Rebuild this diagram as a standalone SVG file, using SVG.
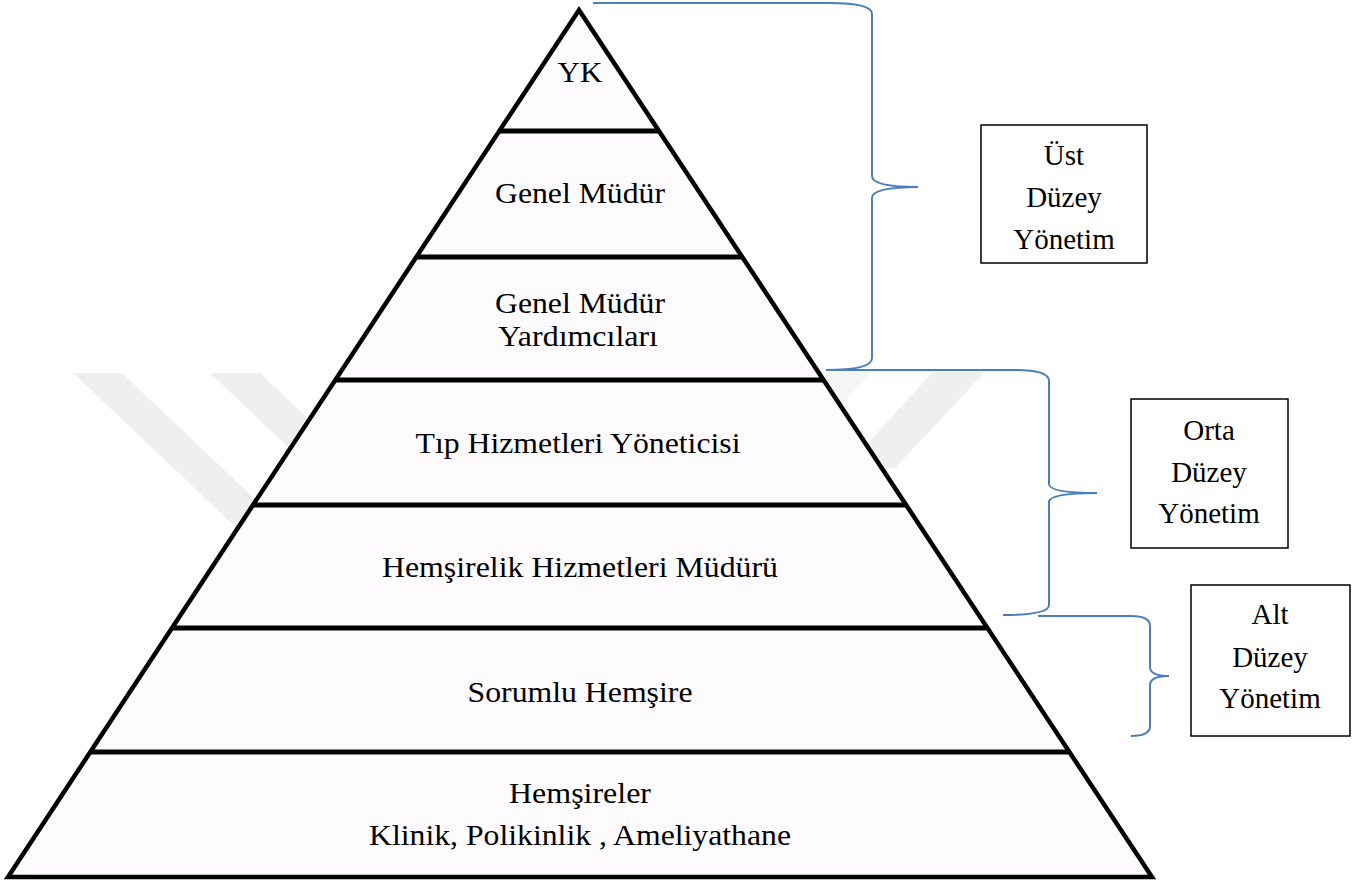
<svg xmlns="http://www.w3.org/2000/svg" width="1359" height="884" viewBox="0 0 1359 884">
<style>
.lbl{font-family:"Liberation Serif","Times New Roman",serif;font-size:29px;fill:#000;text-anchor:middle}
.box{fill:#fff;stroke:#000;stroke-width:1.5}
.band{stroke:#000;stroke-width:5;fill:none}
.brace{fill:none;stroke:#4a7ebb;stroke-width:2}
.wm{fill:#efefef}
</style>
<rect width="1359" height="884" fill="#fff"/>
<g id="watermark">
<polygon class="wm" points="73,373 122,373 330,570 281,570"/>
<polygon class="wm" points="210,373 260,373 460,563 410,563"/>
<polygon class="wm" points="933,372 985,372 895,468 845,468"/>
<polygon class="wm" points="826,372 872,372 790,460 744,460" opacity="0.6"/>
</g>
<g id="pyramid">
<polygon points="579,10 1152,877 8,877" fill="#fdfbfd" stroke="#000" stroke-width="4.5" stroke-linejoin="miter"/>
<line class="band" x1="499" y1="131" x2="659" y2="131"/>
<line class="band" x1="416" y1="257" x2="742" y2="257"/>
<line class="band" x1="335" y1="380" x2="823" y2="380"/>
<line class="band" x1="253" y1="505" x2="906" y2="505"/>
<line class="band" x1="172" y1="628" x2="987" y2="628"/>
<line class="band" x1="91" y1="752" x2="1068" y2="752"/>
</g>
<g id="level-yk"><text class="lbl" x="580" y="82" textLength="45" lengthAdjust="spacingAndGlyphs">YK</text></g>
<g id="level-genel-mudur"><text class="lbl" x="580" y="203" textLength="170" lengthAdjust="spacingAndGlyphs">Genel Müdür</text></g>
<g id="level-gm-yardimcilari">
<text class="lbl" x="580" y="313" textLength="170" lengthAdjust="spacingAndGlyphs">Genel Müdür</text>
<text class="lbl" x="578" y="346" textLength="160" lengthAdjust="spacingAndGlyphs">Yardımcıları</text>
</g>
<g id="level-tip"><text class="lbl" x="578" y="453" textLength="325" lengthAdjust="spacingAndGlyphs">Tıp Hizmetleri Yöneticisi</text></g>
<g id="level-hemsirelik"><text class="lbl" x="580" y="577" textLength="396" lengthAdjust="spacingAndGlyphs">Hemşirelik Hizmetleri Müdürü</text></g>
<g id="level-sorumlu"><text class="lbl" x="580" y="702" textLength="225" lengthAdjust="spacingAndGlyphs">Sorumlu Hemşire</text></g>
<g id="level-hemsireler">
<text class="lbl" x="580" y="803" textLength="142" lengthAdjust="spacingAndGlyphs">Hemşireler</text>
<text class="lbl" x="580" y="845" textLength="422" lengthAdjust="spacingAndGlyphs">Klinik, Polikinlik , Ameliyathane</text>
</g>
<g id="connectors">
<path class="brace" d="M593,3 L830,3 Q872,3 872,14 L872,176 Q872,187 918,187 Q872,187 872,198 L872,358 Q872,370 826,370"/>
<path class="brace" d="M826,370 L1015,370 Q1049,370 1049,381 L1049,484 Q1049,493 1097,493 Q1049,493 1049,502 L1049,605 Q1049,615 1003,615"/>
<path class="brace" d="M1038,616 L1131,616 Q1150,616 1150,626 L1150,667 Q1150,676 1169,676 Q1150,676 1150,685 L1150,726 Q1150,736 1131,736"/>
</g>
<g id="box-ust">
<rect class="box" x="981" y="125" width="166" height="138"/>
<text class="lbl" x="1064" y="165">Üst</text>
<text class="lbl" x="1064" y="207">Düzey</text>
<text class="lbl" x="1064" y="249">Yönetim</text>
</g>
<g id="box-orta">
<rect class="box" x="1131" y="399" width="157" height="149"/>
<text class="lbl" x="1209" y="440">Orta</text>
<text class="lbl" x="1209" y="482">Düzey</text>
<text class="lbl" x="1209" y="523">Yönetim</text>
</g>
<g id="box-alt">
<rect class="box" x="1191" y="585" width="159" height="151"/>
<text class="lbl" x="1270" y="624">Alt</text>
<text class="lbl" x="1270" y="667">Düzey</text>
<text class="lbl" x="1270" y="708">Yönetim</text>
</g>
</svg>
